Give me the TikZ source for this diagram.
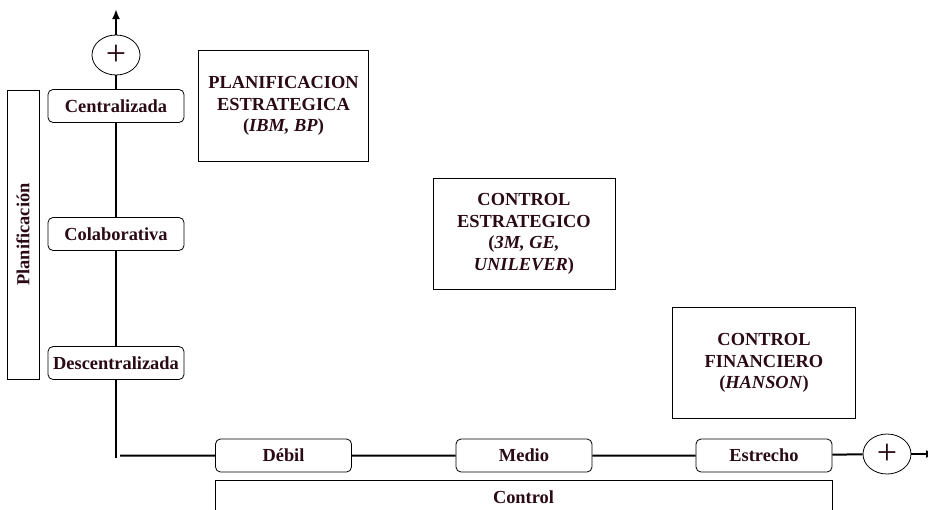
\documentclass[tikz,border=0pt]{standalone}
\usepackage{fontspec}
\setmainfont{Liberation Serif}
\newfontfamily\diagfont{Liberation Serif}
\usetikzlibrary{positioning,calc,arrows.meta,shapes.geometric}
\definecolor{mytext}{RGB}{42,10,20}
\tikzset{
  diagpic/.style={
    x=1pt,y=-1pt
    ,font=\diagfont\fontsize{18.4}{21.6}\selectfont\bfseries\color{mytext}
  }
  ,bounder/.style={draw=black,line width=.8pt,fill=white,inner sep=0pt}
  ,levelbox/.style={bounder,rounded corners=5pt,minimum width=136pt,minimum height=33pt}
  ,bigbox/.style={bounder,align=center,minimum height=111pt}
  ,sidebox/.style={bounder,rotate=90,minimum width=289pt,minimum height=32pt}
  ,axisline/.style={line width=2pt}
  ,axisarrow/.style={axisline,-{Latex[length=10pt,width=8pt]}}
  ,plusmark/.style={ellipse
    ,draw=black
    ,line width=.8pt
    ,fill=white
    ,minimum width=48pt
    ,minimum height=40pt
    ,inner sep=0pt
    ,font=\diagfont\fontsize{36}{36}\selectfont\mdseries\color{mytext}}
}
\begin{document}
\begin{tikzpicture}[diagpic]
  \useasboundingbox (0,0) rectangle (928,509);
  \clip (0,0) rectangle (928,509);
  % planning axis
  \node[levelbox] (centr) at (116,106) {Centralizada};
  \node[levelbox] (colab) at (116,234) {Colaborativa};
  \node[levelbox] (desc) at (116,363) {Descentralizada};
  \node[plusmark] (plusv) at (116,55) {+};
  \coordinate (vtip) at (116,9);
  \coordinate (corner) at (116,458);
  \node[sidebox] (planif) at (23,234.5) {Planificación};
  % control axis
  \node[levelbox] (debil) at (283.5,455.5) {Débil};
  \node[levelbox] (medio) at (524,455.5) {Medio};
  \node[levelbox] (estre) at (764,455.5) {Estrecho};
  \node[plusmark] (plush) at (887,454) {+};
  \coordinate (hstart) at (120,455.5);
  \coordinate (htip) at (936,454);
  \node[bounder,anchor=north,minimum width=617pt,minimum height=44pt] (ctrlbox) at (523.5,480) {};
  \node (ctrl) at (523.5,497) {Control};
  % styles of management
  \node[bigbox,minimum width=170pt] (pe) at (debil |- centr) {PLANIFICACION\\ESTRATEGICA\\(\textit{IBM, BP})};
  \node[bigbox,minimum width=182pt] (ce) at (medio |- colab) {CONTROL\\ESTRATEGICO\\(\textit{3M, GE,}\\\textit{UNILEVER})};
  \node[bigbox,minimum width=183pt] (cf) at (estre |- desc) {CONTROL\\FINANCIERO\\(\textit{HANSON})};
  % axes
  \draw[axisline] (corner) -- (desc) (desc) -- (colab) (colab) -- (centr) (centr) -- (plusv);
  \draw[axisarrow] (plusv) -- (vtip);
  \draw[axisline] (hstart) -- (debil) (debil) -- (medio) (medio) -- (estre) (estre) -- (plush);
  \draw[axisarrow] (plush) -- (htip);
\end{tikzpicture}
\end{document}
